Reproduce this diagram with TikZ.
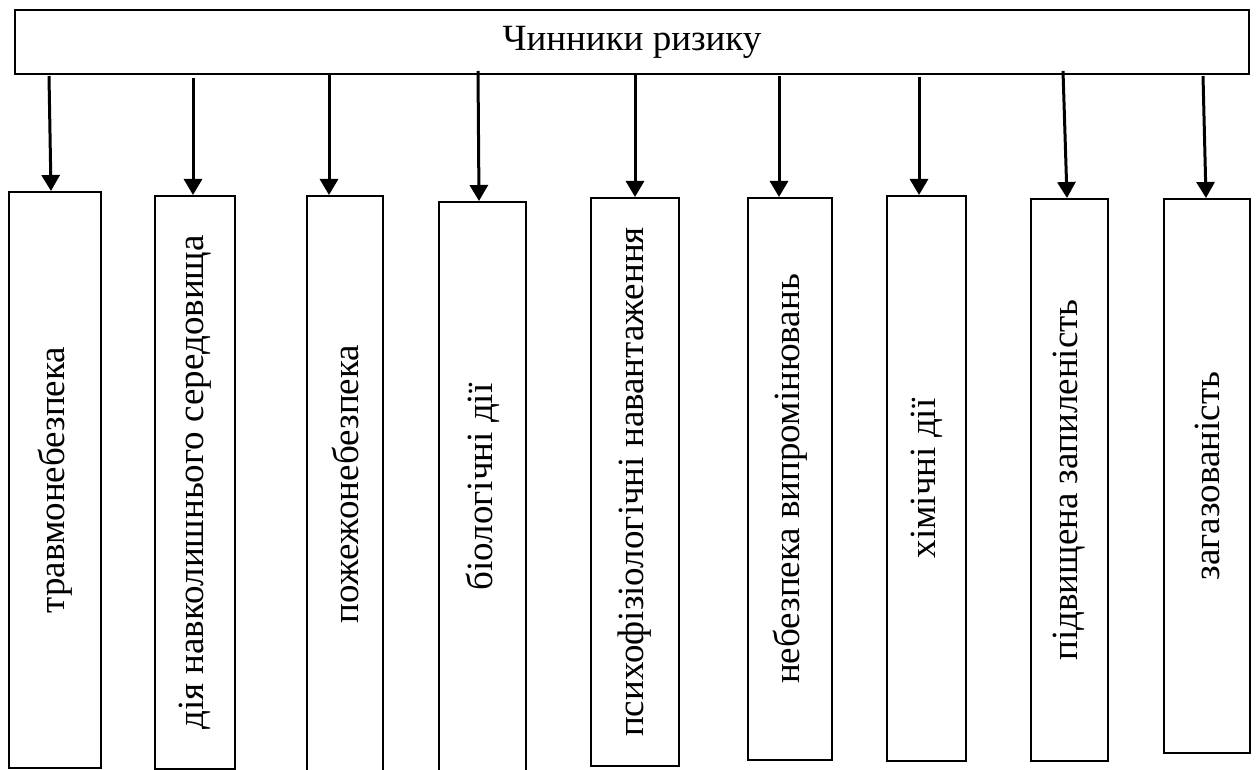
\documentclass[tikz,border=0pt]{standalone}
\usepackage{fontspec}
\setmainfont{Liberation Serif}
\usetikzlibrary{arrows.meta}

\tikzset{
  factor/.style={draw, line width=1pt, inner sep=0pt,
    font=\fontsize{18.5}{22}\selectfont},
  arr/.style={line width=1.5pt, -{Triangle[width=9pt,length=8pt]}}
}

\begin{document}
\begin{tikzpicture}[x=.5pt, y=-.5pt]

\useasboundingbox (0,0) rectangle (1257,770);

\node[factor, minimum width=617pt, minimum height=32pt] (top) at (632,42) {Чинники ризику};

\foreach \i/\l/\r/\t/\b/\s/\sy/\e/\txt in {%
  1/9/101/192/768/49/76/51/травмонебезпека,
  2/155/235/196/769/193/78/193/дія навколишнього середовища,
  3/307/383/196/772/329/74/329/пожежонебезпека,
  4/439/526/202/772/478/71/479/біологічні дії,
  5/591/679/198/766/635/74/635/психофізіологічні навантаження,
  6/748/832/198/760/779/76/779/небезпека випромінювань,
  7/887/966/196/761/919/77/919/хімічні дії,
  8/1031/1108/199/761/1063/71/1067/підвищена запиленість,
  9/1164/1250/199/753/1203/76/1206/загазованість}{% one box and one arrow per factor
    \pgfmathsetmacro\w{(\r-\l)*.5}
    \pgfmathsetmacro\h{(\b-\t)*.5}
    \node[factor, minimum width=\w pt, minimum height=\h pt] (b\i)
      at ({(\l+\r)/2},{(\t+\b)/2}) {\rotatebox{90}{\txt}};
    \coordinate (s\i) at (\s,\sy);
    \draw[arr] (s\i) -- (\e,0 |- b\i.north);}

\end{tikzpicture}
\end{document}
